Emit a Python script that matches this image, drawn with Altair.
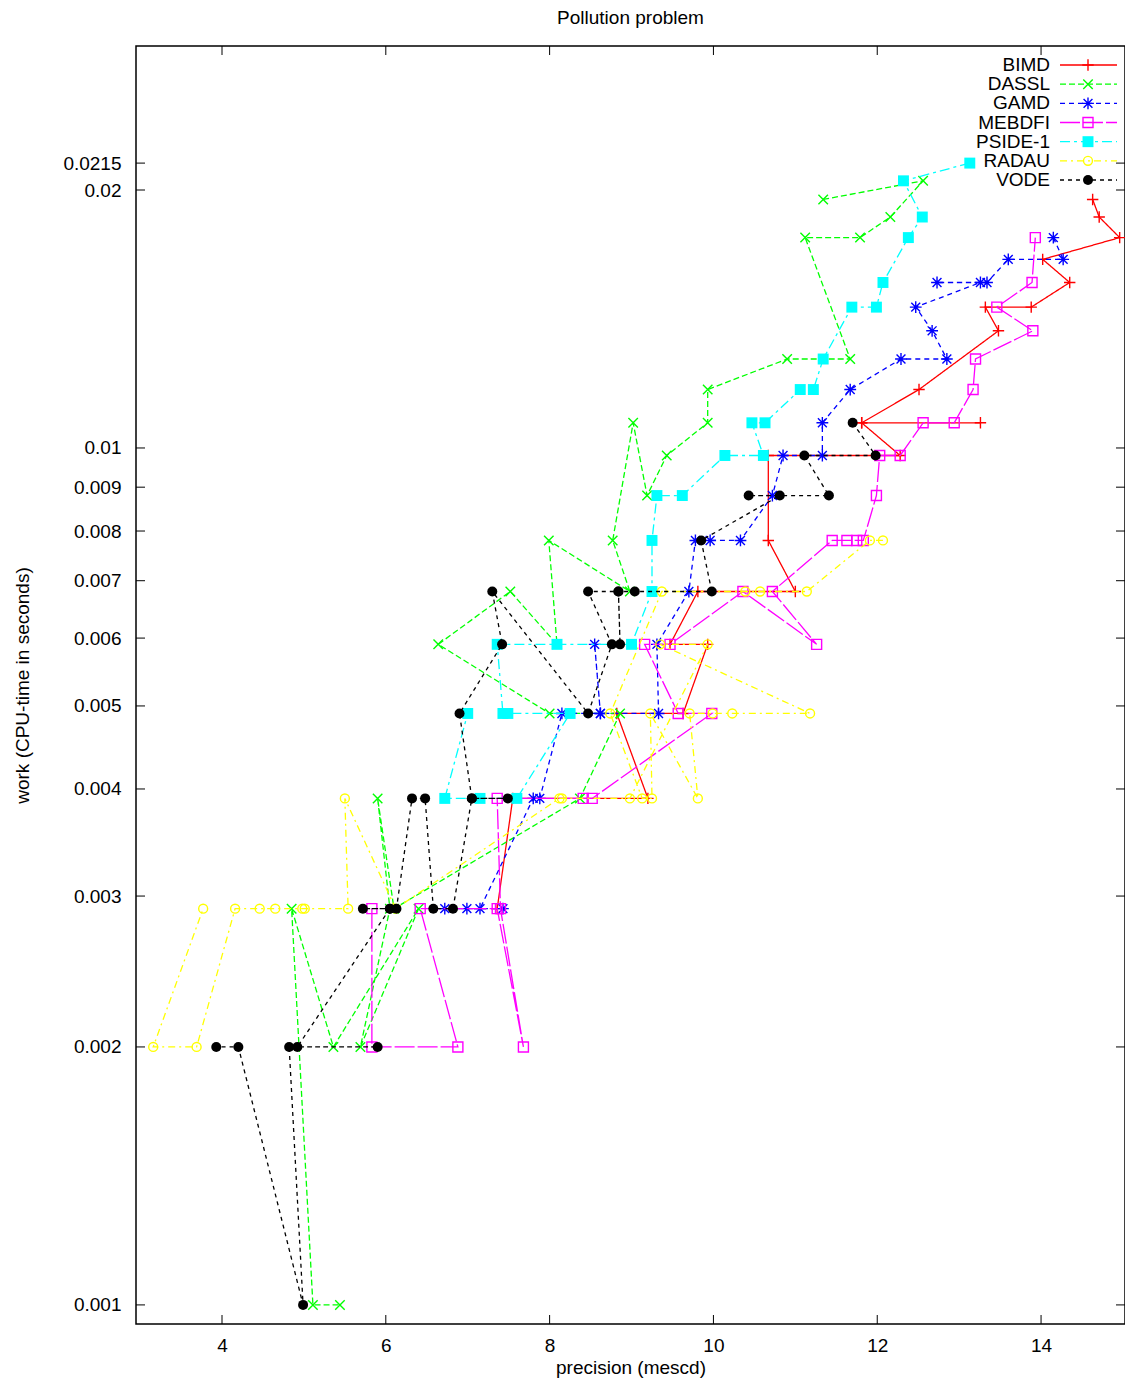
import altair as alt
import pandas as pd

FONT = "Liberation Sans"
FS = 19

series = ["BIMD", "DASSL", "GAMD", "MEBDFI", "PSIDE-1", "RADAU", "VODE"]
colors = ["#ff0000", "#00ff00", "#0000ff", "#ff00ff", "#00ffff", "#ffff00", "#000000"]
dashes = [[1, 0], [6, 3], [5, 4], [20, 3], [10, 4, 3, 4], [7, 4, 2, 4], [4, 4]]
PLUS = "M-1,0L1,0M0,-1L0,1"
XMARK = "M-1,-1L1,1M-1,1L1,-1"
STAR = "M-1,0L1,0M0,-1L0,1M-0.75,-0.75L0.75,0.75M-0.75,0.75L0.75,-0.75"
shapes = [PLUS, XMARK, STAR, "square", "square", "circle", "circle"]
filled = [False, False, False, False, True, False, True]
sizes = [130, 90, 140, 100, 120, 80, 100]

xtick_vals = [4, 6, 8, 10, 12, 14]
ytick_vals = [0.001, 0.002, 0.003, 0.004, 0.005, 0.006, 0.007, 0.008, 0.009, 0.01, 0.02, 0.0215]

bimd_x = [14.63, 14.71, 14.96, 14.02, 14.35, 13.88, 13.32, 13.48, 12.51, 11.81, 13.26, 11.81,
          12.28, 10.67, 10.67, 11.00, 9.81, 9.47, 9.93, 9.63, 8.82, 9.20, 7.55, 7.36]
bimd_y = [0.0195, 0.0186, 0.0176, 0.0166, 0.0156, 0.0146, 0.0146, 0.0137, 0.0117, 0.0107, 0.0107, 0.0107,
          0.0098, 0.0098, 0.0078, 0.0068, 0.0068, 0.0059, 0.0059, 0.0049, 0.0049, 0.0039, 0.0039, 0.0029]

dassl_x = [11.34, 12.56, 12.16, 11.79, 11.12, 11.67, 10.90, 9.93, 9.93, 9.43, 9.19, 9.02, 8.77, 8.98, 7.99,
           8.09, 7.52, 6.64, 8.00, 8.86, 8.37, 6.10, 5.90, 6.05, 5.69, 6.40, 5.36, 4.85, 5.11, 5.44]
dassl_y = [0.0195, 0.0205, 0.0186, 0.0176, 0.0176, 0.0127, 0.0127, 0.0117, 0.0107, 0.0098, 0.0088, 0.0107,
           0.0078, 0.0068, 0.0078, 0.0059, 0.0068, 0.0059, 0.0049, 0.0049, 0.0039, 0.0029, 0.0039, 0.0029,
           0.002, 0.0029, 0.002, 0.0029, 0.001, 0.001]

gamd_x = [14.15, 14.27, 13.60, 13.34, 12.73, 13.26, 12.47, 12.67, 12.85, 12.29, 11.67, 11.33, 11.33, 10.85,
          10.72, 10.33, 9.96, 9.78, 9.70, 9.31, 9.33, 8.62, 8.55, 8.62, 8.15, 7.88, 7.80, 7.15, 7.43, 6.99, 6.72]
gamd_y = [0.0176, 0.0166, 0.0166, 0.0156, 0.0156, 0.0156, 0.0146, 0.0137, 0.0127, 0.0127, 0.0117, 0.0107,
          0.0098, 0.0098, 0.0088, 0.0078, 0.0078, 0.0078, 0.0068, 0.0059, 0.0049, 0.0049, 0.0059, 0.0049,
          0.0049, 0.0039, 0.0039, 0.0029, 0.0029, 0.0029, 0.0029]

mebdfi_x = [5.83, 5.83, 6.88, 6.42, 7.36, 7.68, 7.40, 7.36, 8.41, 8.52, 9.98, 9.57, 9.16, 9.47, 10.36, 11.26,
            10.72, 11.45, 11.63, 11.75, 11.83, 11.99, 12.03, 12.28, 12.56, 12.94, 13.17, 13.20, 13.90, 13.46,
            13.89, 13.93]
mebdfi_y = [0.0029, 0.002, 0.002, 0.0029, 0.0029, 0.002, 0.0029, 0.0039, 0.0039, 0.0039, 0.0049, 0.0049,
            0.0059, 0.0059, 0.0068, 0.0059, 0.0068, 0.0078, 0.0078, 0.0078, 0.0078, 0.0088, 0.0098, 0.0098,
            0.0107, 0.0107, 0.0117, 0.0127, 0.0137, 0.0146, 0.0156, 0.0176]

pside_x = [13.13, 12.32, 12.55, 12.38, 12.07, 11.99, 11.69, 11.34, 11.22, 11.06, 10.63, 10.47, 10.61, 10.14,
           9.62, 9.31, 9.25, 9.25, 9.00, 8.09, 7.36, 7.43, 7.49, 8.25, 7.60, 7.15, 6.72, 7.00]
pside_y = [0.0215, 0.0205, 0.0186, 0.0176, 0.0156, 0.0146, 0.0146, 0.0127, 0.0117, 0.0117, 0.0107, 0.0107,
           0.0098, 0.0098, 0.0088, 0.0088, 0.0078, 0.0068, 0.0059, 0.0059, 0.0059, 0.0049, 0.0049, 0.0049,
           0.0039, 0.0039, 0.0039, 0.0049]

radau_x = [12.07, 11.91, 11.14, 10.57, 10.39, 9.37, 8.74, 9.13, 9.25, 9.23, 9.81, 9.71, 9.99, 10.23, 11.18,
           9.35, 9.93, 8.98, 8.15, 8.12, 6.12, 5.50, 5.54, 5.01, 4.98, 4.65, 4.46, 4.16, 3.69, 3.16, 3.77]
radau_y = [0.0078, 0.0078, 0.0068, 0.0068, 0.0068, 0.0068, 0.0049, 0.0039, 0.0039, 0.0049, 0.0039, 0.0049,
           0.0049, 0.0049, 0.0049, 0.0059, 0.0059, 0.0039, 0.0039, 0.0039, 0.0029, 0.0039, 0.0029, 0.0029,
           0.0029, 0.0029, 0.0029, 0.0029, 0.002, 0.002, 0.0029]

vode_x = [11.70, 11.98, 11.11, 11.41, 10.43, 10.81, 9.85, 9.98, 9.04, 8.84, 8.86, 8.84, 8.47, 8.76, 8.47,
          7.30, 7.42, 6.90, 7.05, 7.49, 7.05, 6.82, 6.58, 6.48, 6.32, 6.13, 6.05, 5.72, 6.05, 4.92, 5.90,
          4.82, 4.99, 4.20, 3.93]
vode_y = [0.0107, 0.0098, 0.0098, 0.0088, 0.0088, 0.0088, 0.0078, 0.0068, 0.0068, 0.0068, 0.0059, 0.0068,
          0.0068, 0.0059, 0.0049, 0.0068, 0.0059, 0.0049, 0.0039, 0.0039, 0.0039, 0.0029, 0.0029, 0.0039,
          0.0039, 0.0029, 0.0029, 0.0029, 0.0029, 0.002, 0.002, 0.002, 0.001, 0.002, 0.002]

xs_all = [bimd_x, dassl_x, gamd_x, mebdfi_x, pside_x, radau_x, vode_x]
ys_all = [bimd_y, dassl_y, gamd_y, mebdfi_y, pside_y, radau_y, vode_y]

# svg must stay within 1117px (page width minus body margins) or the browser shrinks it
W, H = 989, 1278

XS = alt.Scale(domain=[2.95, 15.025], nice=False, zero=False)
YS = alt.Scale(type="log", domain=[0.00095, 0.02945], nice=False)
XAXIS = alt.Axis(values=xtick_vals, title="precision (mescd)", grid=False, ticks=False, tickSize=0,
                 domain=False, labelPadding=12, format="d", titleY=43, titleBaseline="middle")
YAXIS = alt.Axis(values=ytick_vals, title="work (CPU-time in seconds)", grid=False, ticks=False, tickSize=0,
                 domain=False, labelPadding=15, format="~g", titleX=-114, titleY=H / 2,
                 titleAlign="center", titleBaseline="middle")


def X(f="x"):
    return alt.X(f"{f}:Q", scale=XS, axis=XAXIS)


def Y(f="y"):
    return alt.Y(f"{f}:Q", scale=YS, axis=YAXIS)


xt = pd.DataFrame({"x": xtick_vals})
yt = pd.DataFrame({"y": ytick_vals})
tick_layers = [
    alt.Chart(xt).mark_rule(color="black", strokeWidth=1).encode(x=X(), y=alt.value(H), y2=alt.value(H - 9)),
    alt.Chart(xt).mark_rule(color="black", strokeWidth=1).encode(x=X(), y=alt.value(0), y2=alt.value(9)),
    alt.Chart(yt).mark_rule(color="black", strokeWidth=1).encode(y=Y(), x=alt.value(0), x2=alt.value(9)),
    alt.Chart(yt).mark_rule(color="black", strokeWidth=1).encode(y=Y(), x=alt.value(W), x2=alt.value(W - 9)),
]

data_layers = []
for i, s in enumerate(series):
    df = pd.DataFrame({"x": xs_all[i], "y": ys_all[i], "idx": list(range(len(xs_all[i])))})
    base = alt.Chart(df)
    line = base.mark_line(color=colors[i], strokeWidth=1.3, strokeDash=dashes[i]).encode(
        x=X(), y=Y(), order="idx:Q")
    pts = base.mark_point(shape=shapes[i], size=sizes[i], filled=filled[i], color=colors[i],
                          strokeWidth=1.4, opacity=1).encode(x=X(), y=Y())
    data_layers += [line, pts]

main = alt.layer(*tick_layers, *data_layers)

leg_df = pd.DataFrame({"series": series})
LY = alt.Y("series:N", sort=series, axis=None,
           scale=alt.Scale(type="point", domain=series, range=[19, 134], padding=0))
leg_layers = [alt.Chart(leg_df).mark_text(align="right", baseline="middle", font=FONT, fontSize=FS,
                                           color="black").encode(x=alt.value(914), y=LY, text="series:N")]
for i, s in enumerate(series):
    b = alt.Chart(leg_df).transform_filter(alt.datum.series == s)
    leg_layers.append(b.mark_rule(color=colors[i], strokeWidth=1.3, strokeDash=dashes[i]).encode(
        x=alt.value(924), x2=alt.value(981), y=LY))
    leg_layers.append(b.mark_point(shape=shapes[i], size=sizes[i], filled=filled[i], color=colors[i],
                                   strokeWidth=1.4, opacity=1).encode(x=alt.value(952), y=LY))
legend = alt.layer(*leg_layers)

chart = alt.layer(main, legend).resolve_scale(y="independent").properties(
    width=W, height=H,
    title=alt.Title("Pollution problem", anchor="middle", offset=18, fontSize=FS, font=FONT,
                    fontWeight="normal", color="black"),
    padding={"left": 128, "top": 38, "right": 0, "bottom": 54},
    autosize=alt.AutoSizeParams(type="none"),
).configure_view(stroke="black", strokeWidth=1.5).configure_axis(
    labelFont=FONT, titleFont=FONT, labelFontSize=FS, titleFontSize=FS, titleFontWeight="normal",
    labelColor="black", titleColor="black")

chart.save("out.html", embed_options={"renderer": "svg", "actions": False})
